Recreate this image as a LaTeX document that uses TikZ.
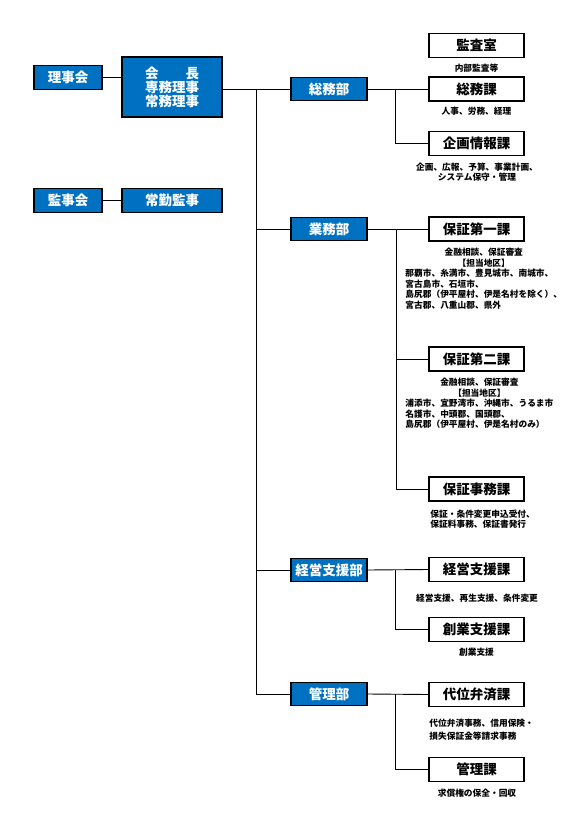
\documentclass[tikz,border=0pt]{standalone}
\usepackage{fontspec}
\setmainfont{Noto Sans CJK JP}
\definecolor{orgblue}{RGB}{0,112,192}

\begin{document}
\begin{tikzpicture}[x=1pt, y=-1pt, line width=0.9pt]
	\tikzstyle{bluebox} = [draw=black, line width=1.2pt, fill=orgblue, text=white, inner sep=0pt, minimum height=23.5pt, font=\fontsize{13.5}{14}\selectfont\bfseries]
	\tikzstyle{sectbox} = [draw=black, line width=1.2pt, fill=white, inner sep=0pt, minimum width=95pt, minimum height=24pt, font=\fontsize{13.5}{14}\selectfont\bfseries]
	\tikzstyle{note} = [inner sep=0pt, font=\fontsize{8.7}{10}\selectfont\bfseries]
	\useasboundingbox (0,0) rectangle (588,837);
	% board and auditors
	\node[bluebox, minimum width=68pt] (rijikai) at (68, 77.5) {理事会};
	\node[bluebox, minimum width=100pt, minimum height=60pt, align=center] (kaicho) at (172, 87) {\makebox[4em][s]{会\hfill 長}\\専務理事\\常務理事};
	\node[bluebox, minimum width=68pt] (kanjikai) at (68, 200.5) {監事会};
	\node[bluebox, minimum width=100pt] (jokin) at (172, 200.5) {常勤監事};
	% departments
	\node[bluebox, minimum width=76pt] (somubu) at (329, 89) {総務部};
	\node[bluebox, minimum width=76pt] (gyomubu) at (329, 229) {業務部};
	\node[bluebox, minimum width=76pt] (keieibu) at (329, 570) {経営支援部};
	\node[bluebox, minimum width=76pt] (kanribu) at (329, 694) {管理部};
	% sections
	\node[sectbox] (kansa) at (476.5, 45.5) {監査室};
	\node[sectbox] (somuka) at (476.5, 89) {総務課};
	\node[sectbox] (kikakuka) at (476.5, 143.5) {企画情報課};
	\node[sectbox] (hosho1) at (476.5, 229) {保証第一課};
	\node[sectbox] (hosho2) at (476.5, 359) {保証第二課};
	\node[sectbox] (jimuka) at (476.5, 489) {保証事務課};
	\node[sectbox] (keieika) at (476.5, 569.5) {経営支援課};
	\node[sectbox] (sogyoka) at (476.5, 629.5) {創業支援課};
	\node[sectbox] (daiika) at (476.5, 694.5) {代位弁済課};
	\node[sectbox] (kanrika) at (476.5, 769.5) {管理課};
	% duties
	\node[note] (naibu) at (476.5, 68) {内部監査等};
	\node[note] (jinji) at (476.5, 111) {人事、労務、経理};
	\node[note, align=center] (kikaku) at (477, 172) {企画、広報、予算、事業計画、\\システム保守・管理};
	\node[note, anchor=north west] (area1) at (405, 248) {\begin{tabular}{@{}l@{}}
		\multicolumn{1}{@{}c@{}}{金融相談、保証審査}\\
		\multicolumn{1}{@{}c@{}}{【担当地区】}\\
		那覇市、糸満市、豊見城市、南城市、\\
		宮古島市、石垣市、\\
		島尻郡（伊平屋村、伊是名村を除く）、\\
		宮古郡、八重山郡、県外
	\end{tabular}};
	\node[note, anchor=north west] (area2) at (405, 378) {\begin{tabular}{@{}l@{}}
		\multicolumn{1}{@{}c@{}}{金融相談、保証審査}\\
		\multicolumn{1}{@{}c@{}}{【担当地区】}\\
		浦添市、宜野湾市、沖縄市、うるま市\\
		名護市、中頭郡、国頭郡、\\
		島尻郡（伊平屋村、伊是名村のみ）
	\end{tabular}};
	\node[note, anchor=north west, align=left, font=\fontsize{8.7}{9.5}\selectfont\bfseries] (jimu) at (430, 510) {保証・条件変更申込受付、\\保証料事務、保証書発行};
	\node[note] (keiei) at (477, 598) {経営支援、再生支援、条件変更};
	\node[note] (sogyo) at (476.5, 652) {創業支援};
	\node[note, anchor=north west, align=left, font=\fontsize{8.7}{12.4}\selectfont\bfseries] (daii) at (429, 719) {代位弁済事務、信用保険・\\損失保証金等請求事務};
	\node[note] (kyusho) at (477, 793) {求償権の保全・回収};
	% connectors
	\coordinate (trunk) at (256, 89);
	\draw (rijikai.east) -- (kaicho.west |- rijikai.east);
	\draw (kanjikai.east) -- (jokin.west);
	\draw (kaicho.east |- somubu.west) -- (somubu.west);
	\draw (trunk) |- (kanribu.west);
	\draw (trunk |- gyomubu.west) -- (gyomubu.west);
	\draw (trunk |- keieibu.west) -- (keieibu.west);
	\draw (somubu.east) -- (somuka.west);
	\draw ([xshift=28pt]somubu.east) |- (kikakuka.west);
	\draw (gyomubu.east) -- (hosho1.west);
	\draw ([xshift=29pt]gyomubu.east) |- (hosho2.west);
	\draw ([xshift=29pt]gyomubu.east) |- (jimuka.west);
	\draw (keieibu.east) -- (keieika.west);
	\draw ([xshift=28pt]keieibu.east) |- (sogyoka.west);
	\draw (kanribu.east) -- (daiika.west);
	\draw ([xshift=28pt]kanribu.east) |- (kanrika.west);
\end{tikzpicture}
\end{document}
